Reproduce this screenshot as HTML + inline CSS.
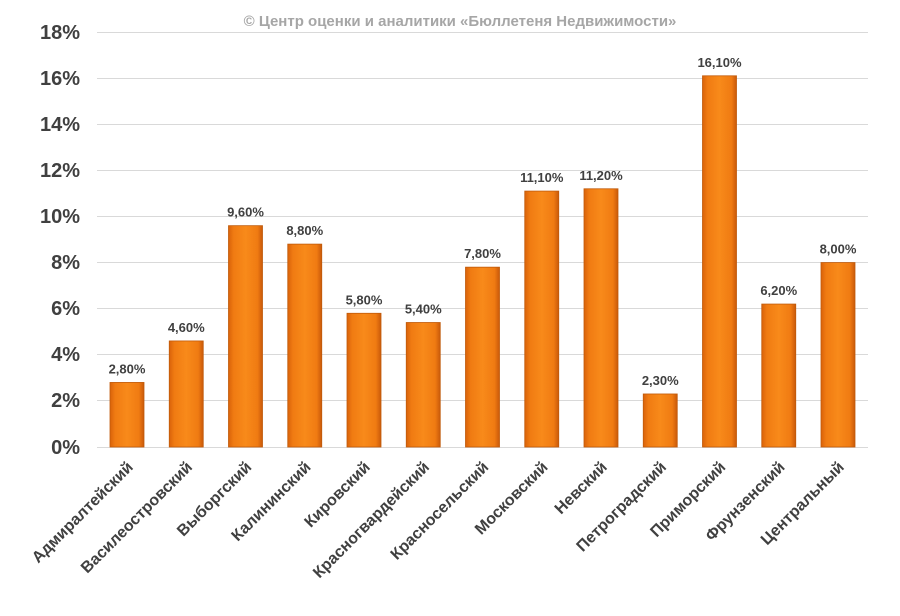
<!DOCTYPE html>
<html><head><meta charset="utf-8"><style>
body{margin:0;background:#fff}
</style></head><body>
<svg width="900" height="611" xmlns="http://www.w3.org/2000/svg" font-family="Liberation Sans, DejaVu Sans, sans-serif">
<defs>
<linearGradient id="g" x1="0" x2="1" y1="0" y2="0">
<stop offset="0" stop-color="#d9620a"/><stop offset="0.15" stop-color="#f07b12"/><stop offset="0.5" stop-color="#f88a1a"/><stop offset="0.85" stop-color="#f07b12"/><stop offset="1" stop-color="#c9590a"/>
</linearGradient>
</defs>
<text x="460" y="26" text-anchor="middle" font-size="15" font-weight="bold" fill="#a6a6a6">© Центр оценки и аналитики «Бюллетеня Недвижимости»</text>
<g stroke="#d9d9d9" stroke-width="1">
<line x1="97" x2="868" y1="32.5" y2="32.5"/><line x1="97" x2="868" y1="78.5" y2="78.5"/><line x1="97" x2="868" y1="124.5" y2="124.5"/><line x1="97" x2="868" y1="170.5" y2="170.5"/><line x1="97" x2="868" y1="216.5" y2="216.5"/><line x1="97" x2="868" y1="262.5" y2="262.5"/><line x1="97" x2="868" y1="308.5" y2="308.5"/><line x1="97" x2="868" y1="354.5" y2="354.5"/><line x1="97" x2="868" y1="400.5" y2="400.5"/><line x1="97" x2="868" y1="447.5" y2="447.5"/>
</g>
<g font-size="20" font-weight="bold" fill="#404040" text-anchor="end">
<text x="80" y="39">18%</text><text x="80" y="85">16%</text><text x="80" y="131">14%</text><text x="80" y="177">12%</text><text x="80" y="223">10%</text><text x="80" y="269">8%</text><text x="80" y="315">6%</text><text x="80" y="361">4%</text><text x="80" y="407">2%</text><text x="80" y="454">0%</text>
</g>
<g id="bars"></g>
<g id="labels" font-size="13" font-weight="bold" fill="#404040" text-anchor="middle"></g>
<g id="cats" font-size="16" font-weight="bold" fill="#404040" text-anchor="end"></g>
</svg>
<script>
var d=[["Адмиралтейский",2.8],["Василеостровский",4.6],["Выборгский",9.6],["Калининский",8.8],["Кировский",5.8],["Красногвардейский",5.4],["Красносельский",7.8],["Московский",11.1],["Невский",11.2],["Петроградский",2.3],["Приморский",16.1],["Фрунзенский",6.2],["Центральный",8.0]];
var ns="http://www.w3.org/2000/svg",b=document.getElementById("bars"),l=document.getElementById("labels"),c=document.getElementById("cats");
d.forEach(function(e,i){var cx=127+i*59.25,h=e[1]/18*415,y=447-h;
var r=document.createElementNS(ns,"rect");r.setAttribute("x",cx-17);r.setAttribute("y",y);r.setAttribute("width",34);r.setAttribute("height",h);r.setAttribute("fill","url(#g)");r.setAttribute("stroke","#c05a0a");r.setAttribute("stroke-width","0.8");b.appendChild(r);
var t=document.createElementNS(ns,"text");t.setAttribute("x",cx);t.setAttribute("y",y-9);t.textContent=e[1].toFixed(2).replace(".",",")+"%";l.appendChild(t);
var k=document.createElementNS(ns,"text");k.setAttribute("transform","translate("+(cx+7)+",468) rotate(-45)");k.textContent=e[0];c.appendChild(k);});
</script>
</body></html>
